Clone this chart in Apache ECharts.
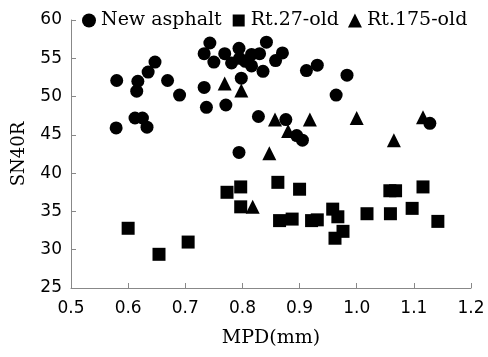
<!DOCTYPE html>
<html lang="en">
  <head>
    <meta charset="UTF-8" />
    <title>SN40R vs MPD</title>
    <script src="https://cdn.jsdelivr.net/npm/echarts@6/dist/echarts.min.js"></script>
    <style>
      * {
        margin: 0;
        padding: 0;
      }
    </style>
  </head>
  <body>
    <div id="charts" style="width: 488px; height: 357px"></div>
    <script>
      // [MPD, SN40R]
      var newAsphalt = [
        [0.58, 52.1], [0.617, 52.0], [0.615, 50.7], [0.635, 53.2], [0.647, 54.5],
        [0.669, 52.1], [0.69, 50.2], [0.579, 45.9], [0.612, 47.2], [0.625, 47.2],
        [0.633, 46.0], [0.733, 51.2], [0.737, 48.6], [0.771, 48.9], [0.828, 47.4],
        [0.794, 42.7], [0.743, 57.0], [0.733, 55.6], [0.75, 54.5], [0.769, 55.6],
        [0.794, 56.3], [0.781, 54.4], [0.795, 55.0], [0.816, 55.5], [0.83, 55.6],
        [0.842, 57.1], [0.836, 53.3], [0.798, 52.4], [0.816, 54.0], [0.858, 54.7],
        [0.87, 55.7], [0.912, 53.4], [0.931, 54.1], [0.983, 52.8], [0.964, 50.2],
        [0.876, 47.0], [0.895, 44.9], [0.905, 44.3], [1.128, 46.5], [0.805, 54.6]
      ];
      var rt27Old = [
        [0.6, 32.8], [0.654, 29.4], [0.705, 31.0], [0.773, 37.5], [0.797, 38.2],
        [0.797, 35.6], [0.862, 38.8], [0.9, 37.9], [0.865, 33.8], [0.887, 34.0],
        [0.921, 33.8], [0.931, 33.9], [0.958, 35.3], [0.967, 34.3], [0.976, 32.4],
        [0.962, 31.5], [1.018, 34.7], [1.058, 37.7], [1.068, 37.7], [1.059, 34.7],
        [1.097, 35.4], [1.116, 38.2], [1.142, 33.7]
      ];
      var rt175Old = [
        [0.769, 51.7], [0.798, 50.8], [0.857, 47.0], [0.847, 42.6], [0.88, 45.5],
        [0.918, 47.0], [1.0, 47.2], [1.116, 47.3], [1.065, 44.3], [0.818, 35.6]
      ];

      var serif = "DejaVu Serif";
      var sans = "DejaVu Sans";
      var myEcharts = echarts.init(document.getElementById("charts"));
      var options = {
        animation: false,
        grid: { left: 71, right: 17, top: 20, bottom: 69 },
        legend: {
          left: 77,
          top: 6,
          itemWidth: 14,
          itemHeight: 14,
          itemGap: 9,
          textStyle: { fontFamily: serif, fontSize: 19, color: "#000" },
          data: [
            { name: "New asphalt", icon: "circle" },
            { name: "Rt.27-old", icon: "rect", itemStyle: { borderColor: "#fff", borderWidth: 2 } },
            { name: "Rt.175-old", icon: "triangle" },
          ],
        },
        xAxis: {
          type: "value",
          min: 0.5,
          max: 1.2,
          interval: 0.1,
          name: "MPD(mm)",
          nameLocation: "middle",
          nameGap: 41,
          nameTextStyle: { fontFamily: serif, fontSize: 19, color: "#000" },
          axisLine: { lineStyle: { color: "#888" } },
          axisTick: { inside: true, length: 5, lineStyle: { color: "#888" } },
          axisLabel: {
            fontFamily: sans,
            fontSize: 17,
            color: "#000",
            margin: 12,
            formatter: function (v) {
              return v.toFixed(1);
            },
          },
          splitLine: { show: false },
        },
        yAxis: {
          type: "value",
          min: 25,
          max: 60,
          interval: 5,
          name: "SN40R",
          nameLocation: "middle",
          nameGap: 43,
          nameTextStyle: { fontFamily: serif, fontSize: 18, color: "#000" },
          axisLine: { show: true, lineStyle: { color: "#888" } },
          axisTick: { show: true, inside: true, length: 5, lineStyle: { color: "#888" } },
          axisLabel: { fontFamily: sans, fontSize: 17, color: "#000", margin: 9 },
          splitLine: { show: false },
        },
        series: [
          {
            name: "New asphalt",
            type: "scatter",
            symbol: "circle",
            symbolSize: 13,
            itemStyle: { color: "#000", opacity: 1 },
            data: newAsphalt,
          },
          {
            name: "Rt.27-old",
            type: "scatter",
            symbol: "rect",
            symbolSize: 13,
            itemStyle: { color: "#000", opacity: 1 },
            data: rt27Old,
          },
          {
            name: "Rt.175-old",
            type: "scatter",
            symbol: "triangle",
            symbolSize: 14,
            itemStyle: { color: "#000", opacity: 1 },
            data: rt175Old,
          },
        ],
      };
      myEcharts.setOption(options);
    </script>
  </body>
</html>
